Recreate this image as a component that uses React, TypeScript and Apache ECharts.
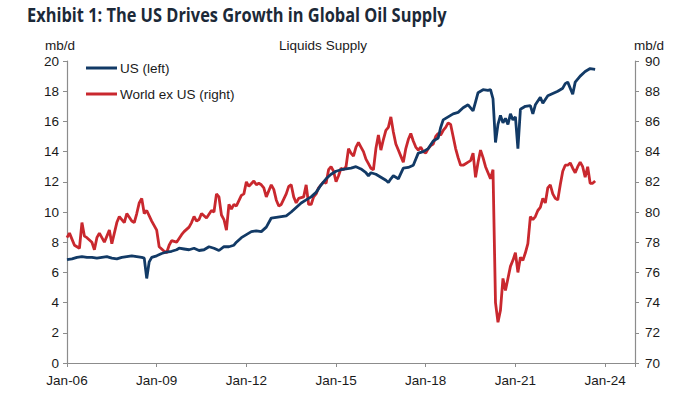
import React, { useEffect, useRef } from "react";
import * as echarts from "echarts";

// Months counted from Jan-2006 (0 = Jan-06)
const xTickLabels = ["Jan-06", "Jan-09", "Jan-12", "Jan-15", "Jan-18", "Jan-21", "Jan-24"];
const seriesNames = ["US (left)", "World ex US (right)"];

// US liquids supply, mb/d (left axis)
const usSupply: [number, number][] = [
  [0, 6.85], [2, 6.9], [4, 7.0], [6, 7.05], [8, 7.0], [10, 7.0], [12, 6.95], [14, 7.0],
  [16, 7.05], [18, 6.95], [20, 6.9], [22, 7.0], [24, 7.05], [26, 7.1], [28, 7.05], [30, 7.0],
  [31, 6.95], [32, 5.6], [33, 6.7], [34, 7.0], [36, 7.1], [38, 7.25], [40, 7.35], [42, 7.4],
  [44, 7.5], [45, 7.6], [47, 7.55], [49, 7.5], [51, 7.6], [53, 7.45], [55, 7.5], [57, 7.7],
  [59, 7.6], [61, 7.45], [63, 7.7], [65, 7.7], [67, 7.8], [68, 8.0], [70, 8.3], [72, 8.5],
  [74, 8.7], [76, 8.75], [78, 8.7], [80, 9.0], [82, 9.6], [84, 9.65], [86, 9.7], [88, 9.75],
  [90, 10.0], [92, 10.3], [94, 10.6], [96, 10.8], [98, 11.0], [100, 11.3], [102, 11.8], [104, 12.2],
  [106, 12.5], [108, 12.7], [110, 12.8], [112, 12.85], [114, 12.9], [116, 13.0], [118, 12.85], [120, 12.6],
  [121, 12.4], [122, 12.6], [124, 12.5], [126, 12.3], [128, 12.1], [129, 11.95], [130, 12.2], [131, 12.4],
  [132, 12.3], [133, 12.2], [135, 12.9], [137, 12.95], [139, 13.1], [141, 13.9], [143, 14.0], [145, 14.2],
  [147, 14.7], [149, 14.9], [150, 15.6], [151, 16.1], [153, 16.3], [155, 16.5], [157, 16.6], [159, 16.9],
  [161, 17.1], [163, 16.7], [164, 17.3], [165, 17.9], [167, 18.1], [169, 18.05], [170, 18.1], [171, 17.5],
  [172, 14.6], [173, 15.8], [174, 16.4], [175, 15.9], [176, 16.2], [177, 15.8], [178, 16.5], [179, 16.1],
  [180, 16.3], [181, 14.2], [182, 16.8], [184, 17.0], [186, 17.05], [187, 16.5], [188, 17.1], [190, 17.6],
  [191, 17.2], [193, 17.7], [195, 17.85], [197, 18.0], [199, 18.2], [200, 18.5], [201, 18.6], [203, 17.8],
  [204, 18.6], [206, 19.0], [208, 19.3], [210, 19.5], [212, 19.45],
];

// World ex US liquids supply, mb/d (right axis)
const worldExUsSupply: [number, number][] = [
  [0, 78.3], [1, 78.6], [3, 77.8], [5, 77.6], [6, 79.3], [7, 78.4], [8, 78.3], [10, 78.0],
  [11, 77.5], [12, 78.3], [13, 78.6], [15, 78.0], [17, 78.8], [18, 77.9], [20, 79.3], [21, 79.7],
  [23, 79.3], [24, 79.9], [26, 79.4], [27, 79.3], [28, 79.9], [29, 80.6], [30, 80.9], [31, 79.9],
  [32, 80.1], [34, 79.4], [36, 78.8], [37, 77.7], [39, 77.4], [40, 77.3], [41, 77.8], [42, 78.1],
  [44, 78.0], [46, 78.5], [47, 78.7], [49, 79.0], [50, 79.3], [51, 79.7], [52, 79.4], [53, 79.5],
  [54, 79.9], [56, 79.6], [58, 80.1], [59, 80.0], [60, 81.2], [61, 81.0], [62, 79.8], [63, 79.5],
  [64, 78.8], [65, 80.5], [66, 80.2], [67, 80.5], [68, 80.4], [70, 81.1], [71, 81.2], [72, 82.0],
  [73, 81.7], [75, 82.05], [76, 81.8], [77, 81.9], [78, 81.8], [79, 81.6], [80, 81.0], [82, 81.8],
  [83, 81.5], [84, 80.8], [85, 80.4], [86, 80.5], [88, 81.2], [89, 81.7], [90, 81.8], [91, 81.0],
  [92, 80.6], [93, 80.9], [95, 81.0], [96, 81.8], [97, 80.5], [98, 80.5], [99, 81.0], [100, 81.2],
  [101, 81.6], [103, 82.0], [104, 81.9], [105, 82.8], [106, 83.0], [107, 82.7], [108, 82.0], [109, 82.4],
  [110, 82.9], [111, 82.8], [112, 83.0], [113, 84.2], [114, 83.9], [115, 83.7], [116, 84.3], [117, 84.6],
  [118, 84.3], [119, 84.0], [120, 83.5], [121, 83.2], [122, 82.9], [123, 82.8], [124, 84.2], [125, 85.1],
  [126, 84.1], [127, 84.8], [128, 85.4], [129, 85.6], [130, 86.3], [131, 85.3], [132, 84.5], [133, 84.1],
  [134, 83.7], [135, 83.3], [136, 84.2], [137, 84.8], [138, 85.2], [139, 84.7], [140, 84.3], [141, 84.1],
  [142, 84.3], [143, 84.0], [144, 83.9], [145, 84.2], [146, 84.4], [147, 84.5], [148, 85.0], [149, 85.2],
  [150, 85.1], [151, 85.4], [152, 85.6], [153, 85.9], [154, 85.8], [155, 85.0], [156, 84.2], [157, 83.6],
  [158, 83.1], [159, 83.1], [160, 83.2], [161, 83.3], [162, 83.4], [163, 83.9], [164, 82.3], [165, 83.3],
  [166, 84.1], [167, 83.6], [168, 83.0], [169, 82.6], [170, 82.2], [171, 82.8], [172, 74.0], [173, 72.7],
  [174, 73.5], [175, 75.6], [176, 74.8], [177, 75.6], [178, 76.4], [179, 76.8], [180, 77.3], [181, 76.0],
  [182, 77.0], [183, 76.8], [184, 77.3], [185, 77.9], [186, 79.7], [187, 79.5], [188, 79.7], [189, 80.1],
  [190, 80.3], [191, 80.9], [192, 80.6], [193, 81.6], [194, 81.8], [195, 81.2], [196, 80.9], [197, 80.8],
  [198, 81.8], [199, 82.7], [200, 83.1], [201, 83.1], [202, 83.25], [203, 82.9], [204, 82.6], [205, 83.0],
  [206, 83.3], [207, 83.0], [208, 82.3], [209, 83.0], [210, 81.9], [211, 81.9], [212, 82.05],
];

const FONT = "'Liberation Sans', Arial, sans-serif";
const FS = 13.5;

export default function App() {
  const ref = useRef<HTMLDivElement>(null);

  useEffect(() => {
    if (!ref.current) return;
    const chart = echarts.init(ref.current, null, { renderer: "svg" });
    const axisColor = "#8c8c8c";
    const labelStyle = { color: "#1a1a1a", fontSize: FS, fontFamily: FONT };
    chart.setOption({
      animation: false,
      backgroundColor: "#ffffff",
      graphic: [
        {
          type: "text",
          x: 27,
          y: 4,
          scaleX: 0.82,
          style: {
            text: "Exhibit 1: The US Drives Growth in Global Oil Supply",
            font: "bold 20px 'Open Sans', 'Liberation Sans', sans-serif",
            fill: "#1c2938",
          },
        },
        {
          type: "text",
          x: 60,
          y: 45,
          style: { text: "mb/d", font: `${FS}px ${FONT}`, fill: "#1a1a1a", align: "center", verticalAlign: "middle" },
        },
        {
          type: "text",
          x: 323,
          y: 45,
          style: { text: "Liquids Supply", font: `${FS}px ${FONT}`, fill: "#1a1a1a", align: "center", verticalAlign: "middle" },
        },
        {
          type: "text",
          x: 649,
          y: 45,
          style: { text: "mb/d", font: `${FS}px ${FONT}`, fill: "#1a1a1a", align: "center", verticalAlign: "middle" },
        },
      ],
      legend: {
        orient: "vertical",
        left: 81,
        top: 56,
        itemWidth: 31,
        itemHeight: 3,
        itemGap: 12,
        icon: "rect",
        textStyle: { ...labelStyle, padding: [0, 0, 0, -2] },
        data: seriesNames,
      },
      grid: { left: 67, right: 65, top: 61, bottom: 31, containLabel: false },
      xAxis: {
        type: "value",
        min: 0,
        max: 228,
        interval: 36,
        splitLine: { show: false },
        axisLine: { lineStyle: { color: axisColor, width: 1.2 } },
        axisTick: { show: true, inside: false, length: 4, lineStyle: { color: axisColor } },
        axisLabel: {
          ...labelStyle,
          margin: 10,
          showMaxLabel: true,
          formatter: (v: number) => (v % 36 === 0 ? xTickLabels[v / 36] ?? "" : ""),
        },
      },
      yAxis: [
        {
          type: "value",
          min: 0,
          max: 20,
          interval: 2,
          position: "left",
          splitLine: { show: false },
          axisLine: { show: true, lineStyle: { color: axisColor, width: 1.2 } },
          axisTick: { show: true, length: 4, lineStyle: { color: axisColor } },
          axisLabel: { ...labelStyle, margin: 8 },
        },
        {
          type: "value",
          min: 70,
          max: 90,
          interval: 2,
          position: "right",
          splitLine: { show: false },
          axisLine: { show: true, lineStyle: { color: axisColor, width: 1.2 } },
          axisTick: { show: true, length: 4, lineStyle: { color: axisColor } },
          axisLabel: { ...labelStyle, margin: 10 },
        },
      ],
      series: [
        {
          name: seriesNames[0],
          type: "line",
          yAxisIndex: 0,
          data: usSupply,
          showSymbol: false,
          symbol: "none",
          lineStyle: { color: "#123a66", width: 2.8 },
          itemStyle: { color: "#123a66" },
          z: 3,
        },
        {
          name: seriesNames[1],
          type: "line",
          yAxisIndex: 1,
          data: worldExUsSupply,
          showSymbol: false,
          symbol: "none",
          lineStyle: { color: "#c9282e", width: 2.8 },
          itemStyle: { color: "#c9282e" },
          z: 2,
        },
      ],
    });
    return () => chart.dispose();
  }, []);

  return (
    <div
      ref={ref}
      style={{ position: "fixed", left: 0, top: 0, width: 700, height: 394, background: "#fff" }}
    />
  );
}
